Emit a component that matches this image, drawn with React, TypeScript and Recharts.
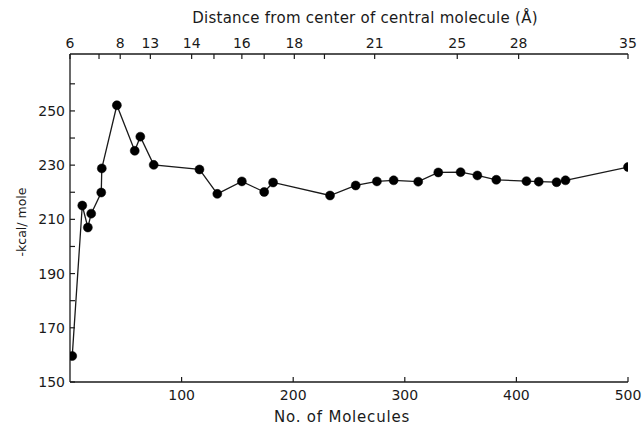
import React from 'react';
import { LineChart, Line, XAxis, YAxis } from 'recharts';

// Number of molecules (bottom axis) and energy (-kcal/mole)
const molecules = [2, 11, 16, 19, 28, 28.5, 42, 58, 63, 75, 116, 132, 154, 174, 182, 233, 256, 275, 290, 312, 330, 350, 365, 382, 409, 420, 436, 444, 500];
const energy = [159.6, 215.1, 207, 212.1, 219.9, 228.8, 252.1, 235.3, 240.5, 230.1, 228.4, 219.4, 224, 220.1, 223.6, 218.8, 222.5, 224, 224.4, 223.9, 227.3, 227.4, 226.2, 224.6, 224.1, 223.9, 223.7, 224.4, 229.3];

// Bottom axis ticks
const bottomTicks = [100, 200, 300, 400, 500];
// Y ticks (labels every 20, minor ticks every 10)
const yTicks = [150, 160, 170, 180, 190, 200, 210, 220, 230, 240, 250, 260];
// Top axis: distance from center of central molecule (Å), placed at molecule counts
const topTickPositions = [0, 26, 45, 72, 109, 129, 154, 174, 201, 228, 273, 347, 402, 500];
const topTickLabels = ['6', '', '8', '13', '14', '', '16', '', '18', '', '21', '25', '28', '35'];

const data = molecules.map((n, i) => ({ n, e: energy[i] }));

const FONT = 'DejaVu Sans';
const INK = '#1a1a1a';
const tickStyle = { fontFamily: FONT, fontSize: 14, fill: INK };

const YLabel = (props: any) => {
  const vb = props.viewBox || { x: 0, y: 0, width: 0, height: 0 };
  const cx = vb.x + 21;
  const cy = vb.y + vb.height / 2 + 4;
  return (
    <text
      x={cx}
      y={cy}
      transform={`rotate(-90 ${cx} ${cy})`}
      textAnchor="middle"
      dominantBaseline="central"
      style={{ fontFamily: FONT, fontSize: 12.5, fill: INK }}
    >
      -kcal/ mole
    </text>
  );
};

export default function App() {
  return (
    <div style={{ position: 'absolute', left: 0, top: 0, background: '#fff' }}>
      <LineChart
        width={644}
        height={425}
        data={data}
        margin={{ top: 0, right: 16, left: 0, bottom: 0 }}
      >
        <XAxis
          xAxisId="bottom"
          dataKey="n"
          type="number"
          domain={[0, 500]}
          ticks={bottomTicks}
          orientation="bottom"
          height={43}
          tickSize={-5}
          tickMargin={13}
          tick={tickStyle}
          axisLine={{ stroke: INK, strokeWidth: 1.3 }}
          tickLine={{ stroke: INK, strokeWidth: 1.2 }}
          allowDataOverflow
          label={{ value: 'No. of Molecules', position: 'insideBottom', offset: 3, dx: -7, style: { fontFamily: FONT, fontSize: 15, letterSpacing: 0.8, fill: INK } }}
        />
        <XAxis
          xAxisId="top"
          dataKey="n"
          type="number"
          domain={[0, 500]}
          ticks={topTickPositions}
          tickFormatter={(v: number) => {
            const i = topTickPositions.indexOf(v);
            return i >= 0 ? topTickLabels[i] : '';
          }}
          interval={0}
          orientation="top"
          height={54}
          tickSize={-5}
          tickMargin={11}
          tick={tickStyle}
          axisLine={{ stroke: INK, strokeWidth: 1.3 }}
          tickLine={{ stroke: INK, strokeWidth: 1.2 }}
          allowDataOverflow
          label={{ value: 'Distance from center of central molecule (Å)', position: 'insideTop', offset: 12, dx: 16, style: { fontFamily: FONT, fontSize: 15, letterSpacing: 0.25, fill: INK } }}
        />
        <YAxis
          type="number"
          domain={[150, 271]}
          ticks={yTicks}
          interval={0}
          tickFormatter={(v: number) => (v % 20 === 10 ? String(v) : '')}
          width={70}
          tickSize={-5}
          tickMargin={10}
          tick={tickStyle}
          axisLine={{ stroke: INK, strokeWidth: 1.3 }}
          tickLine={{ stroke: INK, strokeWidth: 1.2 }}
          allowDataOverflow
          label={<YLabel />}
        />
        <Line
          xAxisId="bottom"
          dataKey="e"
          stroke={INK}
          strokeWidth={1.3}
          dot={{ r: 4.5, fill: '#000', stroke: '#000', strokeWidth: 0.5 }}
          isAnimationActive={false}
        />
        <Line
          xAxisId="top"
          dataKey="e"
          stroke="none"
          dot={false}
          activeDot={false}
          legendType="none"
          isAnimationActive={false}
        />
      </LineChart>
    </div>
  );
}
